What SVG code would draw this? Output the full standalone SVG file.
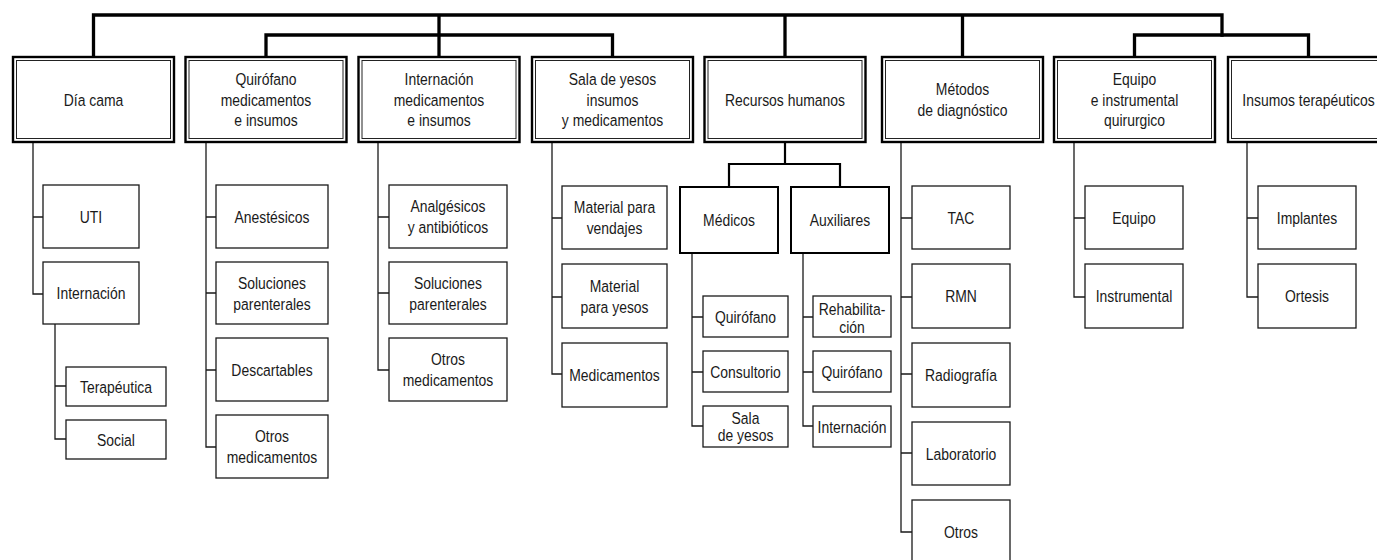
<svg xmlns="http://www.w3.org/2000/svg" width="1377" height="560" viewBox="0 0 1377 560">
<style>
  .bg{fill:#ffffff}
  .outer{fill:#ffffff;stroke:#000;stroke-width:2.4}
  .inner{fill:none;stroke:#222;stroke-width:1}
  .mid{fill:#ffffff;stroke:#000;stroke-width:2}
  .leaf{fill:#ffffff;stroke:#1a1a1a;stroke-width:1.3}
  .thick{fill:none;stroke:#000;stroke-width:3.3;stroke-linejoin:miter;stroke-linecap:square}
  .med{fill:none;stroke:#000;stroke-width:2.2;stroke-linejoin:miter}
  .thin{fill:none;stroke:#1a1a1a;stroke-width:1.3}
  text{font-family:"Liberation Sans",Arial,sans-serif;font-size:17px;fill:#1a1a1a;text-anchor:middle}
</style>
<rect class="bg" x="0" y="0" width="1377" height="560"/>

<g id="connectors">
  <!-- top level -->
  <path class="thick" d="M93.5,57 V15 H1222 V35 M439,15 V57 M785,15 V57 M962.5,15 V57"/>
  <path class="thick" d="M266,57 V35 H612.5 V57 M1134.5,57 V35 H1308.5 V57"/>
  <!-- recursos humanos -->
  <path class="med" d="M785,142 V164 M729,187 V164 H840 V187"/>
  <!-- Día cama -->
  <path class="thin" d="M33,142 V294 H43 M33,217 H43 M55,324 V439 H66 M55,386 H66"/>
  <!-- Quirófano -->
  <path class="thin" d="M206,142 V447 H216 M206,217 H216 M206,293 H216 M206,370 H216"/>
  <!-- Internación -->
  <path class="thin" d="M378,142 V370 H389 M378,217 H389 M378,293 H389"/>
  <!-- Sala de yesos -->
  <path class="thin" d="M552,142 V374 H562 M552,218 H562 M552,297 H562"/>
  <!-- Médicos -->
  <path class="thin" d="M692,253 V426 H703 M692,317 H703 M692,372 H703"/>
  <!-- Auxiliares -->
  <path class="thin" d="M803,253 V426 H813 M803,317 H813 M803,372 H813"/>
  <!-- Métodos -->
  <path class="thin" d="M901,142 V532 H912 M901,218 H912 M901,297 H912 M901,374 H912 M901,453 H912"/>
  <!-- Equipo -->
  <path class="thin" d="M1074,142 V297 H1085 M1074,218 H1085"/>
  <!-- Insumos -->
  <path class="thin" d="M1247,142 V297 H1258 M1247,218 H1258"/>
</g>

<!-- top level nodes -->
<g id="n-dia-cama">
  <rect class="outer" x="13" y="57" width="161" height="85"/>
  <rect class="inner" x="16.5" y="60.5" width="154" height="78"/>
  <text transform="translate(93.5,105.5) scale(0.82,1)">Día cama</text>
</g>
<g id="n-quirofano">
  <rect class="outer" x="185.5" y="57" width="161" height="85"/>
  <rect class="inner" x="189" y="60.5" width="154" height="78"/>
  <text transform="translate(266,105.5) scale(0.82,1)"><tspan x="0" y="-21">Quirófano</tspan><tspan x="0" y="0">medicamentos</tspan><tspan x="0" y="21">e insumos</tspan></text>
</g>
<g id="n-internacion">
  <rect class="outer" x="358.5" y="57" width="161" height="85"/>
  <rect class="inner" x="362" y="60.5" width="154" height="78"/>
  <text transform="translate(439,105.5) scale(0.82,1)"><tspan x="0" y="-21">Internación</tspan><tspan x="0" y="0">medicamentos</tspan><tspan x="0" y="21">e insumos</tspan></text>
</g>
<g id="n-sala-yesos">
  <rect class="outer" x="532" y="57" width="161" height="85"/>
  <rect class="inner" x="535.5" y="60.5" width="154" height="78"/>
  <text transform="translate(612.5,105.5) scale(0.82,1)"><tspan x="0" y="-21">Sala de yesos</tspan><tspan x="0" y="0">insumos</tspan><tspan x="0" y="21">y medicamentos</tspan></text>
</g>
<g id="n-recursos">
  <rect class="outer" x="704.5" y="57" width="161" height="85"/>
  <rect class="inner" x="708" y="60.5" width="154" height="78"/>
  <text transform="translate(785,105.5) scale(0.82,1)">Recursos humanos</text>
</g>
<g id="n-metodos">
  <rect class="outer" x="882" y="57" width="161" height="85"/>
  <rect class="inner" x="885.5" y="60.5" width="154" height="78"/>
  <text transform="translate(962.5,105.5) scale(0.82,1)"><tspan x="0" y="-10.5">Métodos</tspan><tspan x="0" y="10.5">de diagnóstico</tspan></text>
</g>
<g id="n-equipo">
  <rect class="outer" x="1054" y="57" width="161" height="85"/>
  <rect class="inner" x="1057.5" y="60.5" width="154" height="78"/>
  <text transform="translate(1134.5,105.5) scale(0.82,1)"><tspan x="0" y="-21">Equipo</tspan><tspan x="0" y="0">e instrumental</tspan><tspan x="0" y="21">quirurgico</tspan></text>
</g>
<g id="n-insumos">
  <rect class="outer" x="1228" y="57" width="161" height="85"/>
  <rect class="inner" x="1231.5" y="60.5" width="154" height="78"/>
  <text transform="translate(1308.5,105.5) scale(0.82,1)">Insumos terapéuticos</text>
</g>

<!-- recursos humanos sub nodes -->
<g id="n-medicos">
  <rect class="mid" x="680" y="187" width="98" height="66"/>
  <text transform="translate(729,226) scale(0.82,1)">Médicos</text>
</g>
<g id="n-auxiliares">
  <rect class="mid" x="791" y="187" width="98" height="66"/>
  <text transform="translate(840,226) scale(0.82,1)">Auxiliares</text>
</g>

<!-- Día cama children -->
<g id="n-uti"><rect class="leaf" x="43" y="185" width="96" height="63"/><text transform="translate(91,222.5) scale(0.82,1)">UTI</text></g>
<g id="n-dc-internacion"><rect class="leaf" x="43" y="262" width="96" height="62"/><text transform="translate(91,299) scale(0.82,1)">Internación</text></g>
<g id="n-terapeutica"><rect class="leaf" x="66" y="367" width="100" height="39"/><text transform="translate(116,392.5) scale(0.82,1)">Terapéutica</text></g>
<g id="n-social"><rect class="leaf" x="66" y="420" width="100" height="39"/><text transform="translate(116,445.5) scale(0.82,1)">Social</text></g>

<!-- Quirófano children -->
<g id="n-anestesicos"><rect class="leaf" x="216" y="185" width="112" height="63"/><text transform="translate(272,222.5) scale(0.82,1)">Anestésicos</text></g>
<g id="n-q-soluciones"><rect class="leaf" x="216" y="262" width="112" height="62"/><text transform="translate(272,299) scale(0.82,1)"><tspan x="0" y="-10.5">Soluciones</tspan><tspan x="0" y="10.5">parenterales</tspan></text></g>
<g id="n-descartables"><rect class="leaf" x="216" y="338" width="112" height="63"/><text transform="translate(272,375.5) scale(0.82,1)">Descartables</text></g>
<g id="n-q-otros"><rect class="leaf" x="216" y="415" width="112" height="63"/><text transform="translate(272,452.5) scale(0.82,1)"><tspan x="0" y="-10.5">Otros</tspan><tspan x="0" y="10.5">medicamentos</tspan></text></g>

<!-- Internación children -->
<g id="n-analgesicos"><rect class="leaf" x="389" y="185" width="118" height="63"/><text transform="translate(448,222.5) scale(0.82,1)"><tspan x="0" y="-10.5">Analgésicos</tspan><tspan x="0" y="10.5">y antibióticos</tspan></text></g>
<g id="n-i-soluciones"><rect class="leaf" x="389" y="262" width="118" height="62"/><text transform="translate(448,299) scale(0.82,1)"><tspan x="0" y="-10.5">Soluciones</tspan><tspan x="0" y="10.5">parenterales</tspan></text></g>
<g id="n-i-otros"><rect class="leaf" x="389" y="338" width="118" height="63"/><text transform="translate(448,375.5) scale(0.82,1)"><tspan x="0" y="-10.5">Otros</tspan><tspan x="0" y="10.5">medicamentos</tspan></text></g>

<!-- Sala de yesos children -->
<g id="n-vendajes"><rect class="leaf" x="562" y="186" width="105" height="63"/><text transform="translate(614.5,223.5) scale(0.82,1)"><tspan x="0" y="-10.5">Material para</tspan><tspan x="0" y="10.5">vendajes</tspan></text></g>
<g id="n-material-yesos"><rect class="leaf" x="562" y="264" width="105" height="64"/><text transform="translate(614.5,302) scale(0.82,1)"><tspan x="0" y="-10.5">Material</tspan><tspan x="0" y="10.5">para yesos</tspan></text></g>
<g id="n-s-medicamentos"><rect class="leaf" x="562" y="343" width="105" height="64"/><text transform="translate(614.5,381) scale(0.82,1)">Medicamentos</text></g>

<!-- Médicos children -->
<g id="n-m-quirofano"><rect class="leaf" x="703" y="296" width="85" height="41"/><text transform="translate(745.5,322.5) scale(0.82,1)">Quirófano</text></g>
<g id="n-m-consultorio"><rect class="leaf" x="703" y="351" width="85" height="41"/><text transform="translate(745.5,377.5) scale(0.82,1)">Consultorio</text></g>
<g id="n-m-sala"><rect class="leaf" x="703" y="406" width="85" height="41"/><text transform="translate(745.5,423.5) scale(0.82,1)"><tspan x="0" y="0">Sala</tspan><tspan x="0" y="18">de yesos</tspan></text></g>

<!-- Auxiliares children -->
<g id="n-a-rehab"><rect class="leaf" x="813" y="296" width="78" height="41"/><text transform="translate(852,315) scale(0.82,1)"><tspan x="0" y="0">Rehabilita-</tspan><tspan x="0" y="18">ción</tspan></text></g>
<g id="n-a-quirofano"><rect class="leaf" x="813" y="351" width="78" height="41"/><text transform="translate(852,377.5) scale(0.82,1)">Quirófano</text></g>
<g id="n-a-internacion"><rect class="leaf" x="813" y="406" width="78" height="41"/><text transform="translate(852,432.5) scale(0.82,1)">Internación</text></g>

<!-- Métodos children -->
<g id="n-tac"><rect class="leaf" x="912" y="186" width="98" height="63"/><text transform="translate(961,223.5) scale(0.82,1)">TAC</text></g>
<g id="n-rmn"><rect class="leaf" x="912" y="264" width="98" height="64"/><text transform="translate(961,302) scale(0.82,1)">RMN</text></g>
<g id="n-radiografia"><rect class="leaf" x="912" y="343" width="98" height="64"/><text transform="translate(961,381) scale(0.82,1)">Radiografía</text></g>
<g id="n-laboratorio"><rect class="leaf" x="912" y="422" width="98" height="63"/><text transform="translate(961,459.5) scale(0.82,1)">Laboratorio</text></g>
<g id="n-m-otros"><rect class="leaf" x="912" y="500" width="98" height="63"/><text transform="translate(961,538) scale(0.82,1)">Otros</text></g>

<!-- Equipo children -->
<g id="n-e-equipo"><rect class="leaf" x="1085" y="186" width="98" height="63"/><text transform="translate(1134,223.5) scale(0.82,1)">Equipo</text></g>
<g id="n-instrumental"><rect class="leaf" x="1085" y="264" width="98" height="64"/><text transform="translate(1134,302) scale(0.82,1)">Instrumental</text></g>

<!-- Insumos children -->
<g id="n-implantes"><rect class="leaf" x="1258" y="186" width="98" height="63"/><text transform="translate(1307,223.5) scale(0.82,1)">Implantes</text></g>
<g id="n-ortesis"><rect class="leaf" x="1258" y="264" width="98" height="64"/><text transform="translate(1307,302) scale(0.82,1)">Ortesis</text></g>
</svg>
